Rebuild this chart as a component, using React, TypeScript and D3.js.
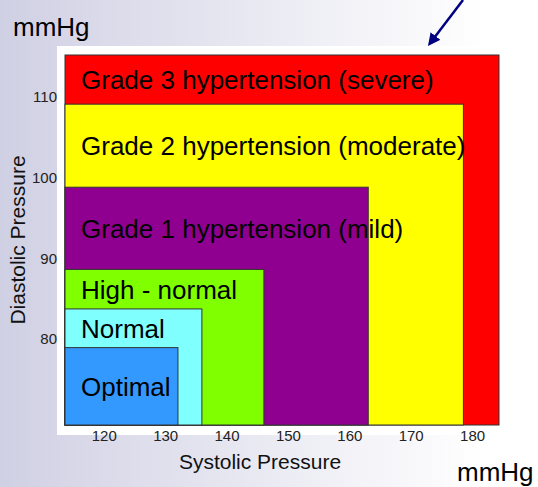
import * as d3 from "d3"

// blood pressure classes, outermost first
const categories = [
    "Grade 3 hypertension (severe)",
    "Grade 2 hypertension (moderate)",
    "Grade 1 hypertension (mild)",
    "High - normal",
    "Normal",
    "Optimal",
]
const systolicMax = [184.3, 178.5, 163, 146, 135.9, 132]
const diastolicMax = [115.2, 109.1, 98.8, 88.6, 83.7, 78.9]
const colors = ["#ff0000", "#ffff00", "#900090", "#80ff00", "#80ffff", "#3399ff"]

const systolicMin = 113.6
const diastolicMin = 69.3
const systolicTicks = [120, 130, 140, 150, 160, 170, 180]
const diastolicTicks = [80, 90, 100, 110]

const font = "'Liberation Sans', Arial, sans-serif"

export default function App() {
    const width = 538
    const height = 487
    const margin = { left: 65, right: 39, top: 55, bottom: 62 }

    const x = d3.scaleLinear()
        .domain([systolicMin, d3.max(systolicMax)])
        .range([margin.left, width - margin.right])
    const y = d3.scaleLinear()
        .domain([diastolicMin, d3.max(diastolicMax)])
        .range([height - margin.bottom, margin.top])

    // top edge of the next (inner) box, used to centre each label
    const nextTop = (i) => (i + 1 < diastolicMax.length ? y(diastolicMax[i + 1]) : y(diastolicMin))

    // arrow from the top edge pointing at the chart corner
    const arrow = d3.line()([[463, 0], [431, 42]])

    return (
        <svg width={width} height={height} style={{ position: "absolute", left: 0, top: 0 }} fontFamily={font}>
            <defs>
                <linearGradient id="bg" x1="0" y1="0" x2="1" y2="0">
                    <stop offset="0%" stopColor="#d0d0e4" />
                    <stop offset="90%" stopColor="#ffffff" />
                </linearGradient>
                <marker id="head" viewBox="0 0 10 10" refX="6" refY="5" markerWidth="5" markerHeight="5" orient="auto">
                    <path d="M0,0 L10,5 L0,10 z" fill="#000080" />
                </marker>
            </defs>
            <rect width={width} height={height} fill="url(#bg)" />
            <rect x={57} y={46} width={448} height={389} fill="#ffffff" />

            {categories.map((c, i) => (
                <rect key={c}
                    x={x(systolicMin)}
                    y={y(diastolicMax[i])}
                    width={x(systolicMax[i]) - x(systolicMin)}
                    height={y(diastolicMin) - y(diastolicMax[i])}
                    fill={colors[i]}
                    stroke="#333333"
                    strokeWidth={1} />
            ))}
            {categories.map((c, i) => (
                <text key={"t" + c}
                    x={x(systolicMin) + 16}
                    y={(y(diastolicMax[i]) + nextTop(i)) / 2}
                    dy="0.36em"
                    fontSize={26}
                    fill="#000000">{c}</text>
            ))}

            {systolicTicks.map((t) => (
                <text key={"x" + t} x={x(t)} y={441} textAnchor="middle" fontSize={15} fill="#222">{t}</text>
            ))}
            {diastolicTicks.map((t) => (
                <text key={"y" + t} x={57} y={y(t)} dy="0.36em" textAnchor="end" fontSize={15} fill="#222">{t}</text>
            ))}

            <text x={260} y={469} textAnchor="middle" fontSize={21} fill="#111">Systolic Pressure</text>
            <text transform="translate(25,240) rotate(-90)" textAnchor="middle" fontSize={21} fill="#111">Diastolic Pressure</text>
            <text x={13} y={36} fontSize={26} fill="#000">mmHg</text>
            <text x={457} y={481} fontSize={26} fill="#000">mmHg</text>

            <path d={arrow} stroke="#000080" strokeWidth={2.5} fill="none" markerEnd="url(#head)" />
        </svg>
    )
}
